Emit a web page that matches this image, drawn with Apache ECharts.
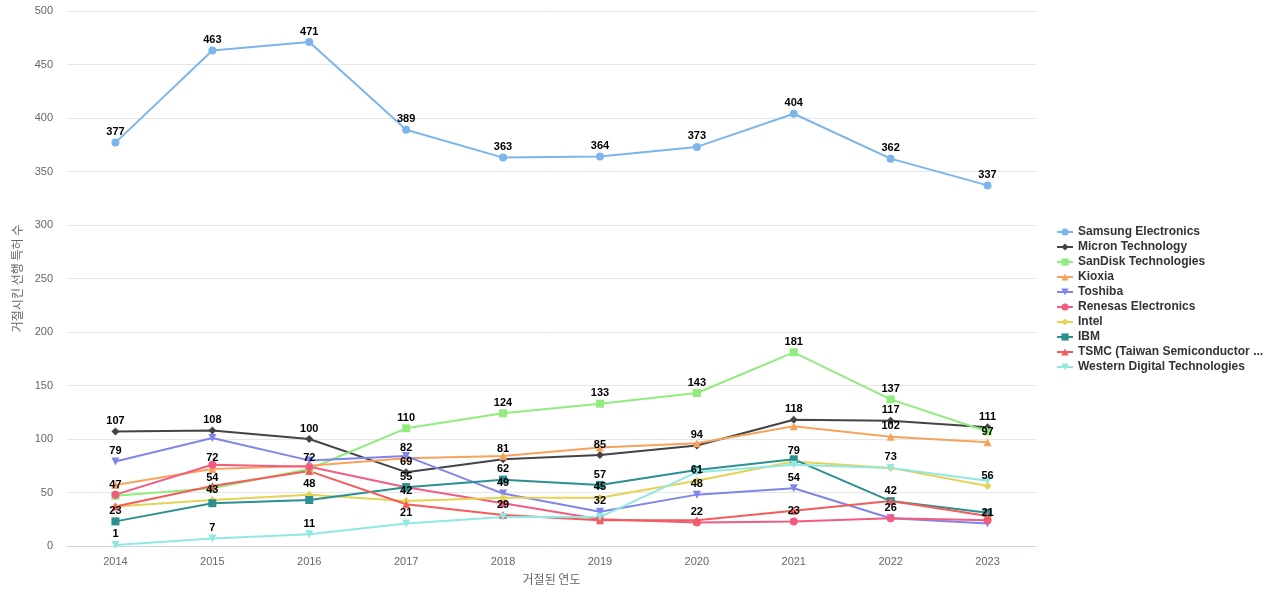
<!DOCTYPE html>
<html><head><meta charset="utf-8">
<script src="https://cdn.jsdelivr.net/npm/echarts@6/dist/echarts.min.js"></script>
<style>html,body{margin:0;padding:0;background:#fff}#c{width:1280px;height:600px}</style>
</head><body><div id="c"></div>
<script>
const years = ['2014','2015','2016','2017','2018','2019','2020','2021','2022','2023'];
const seriesNames = ['Samsung Electronics','Micron Technology','SanDisk Technologies','Kioxia','Toshiba','Renesas Electronics','Intel','IBM','TSMC (Taiwan Semiconductor Manufacturing Company)','Western Digital Technologies'];
const samsung = [377,463,471,389,363,364,373,404,362,337];
const micron  = [107,108,100,69,81,85,94,118,117,111];
const sandisk = [47,54,72,110,124,133,143,181,137,107];
const kioxia  = [57,72,75,82,84,92,96,112,102,97];
const toshiba = [79,101,80,84,49,32,48,54,26,21];
const renesas = [48,76,74,55,40,25,22,23,26,24];
const intel   = [37,43,48,42,45,45,61,79,73,56];
const ibm     = [23,40,43,55,62,57,71,81,42,31];
const tsmc    = [37,56,70,39,29,24,24,33,42,28];
const wd      = [1,7,11,21,27,27,69,76,73,61];
const yTicks = {min:0,max:500,interval:50};

const colors = ['#7cb5ec','#434348','#90ed7d','#f7a35c','#8085e9','#f15c80','#e4d354','#2b908f','#f45b5b','#91e8e1'];
const symbols = ['circle','diamond','rect','triangle','triangle','circle','diamond','rect','triangle','triangle'];
const rotations = [0,0,0,0,180,0,0,0,0,180];
const values = [samsung,micron,sandisk,kioxia,toshiba,renesas,intel,ibm,tsmc,wd];

const chart = echarts.init(document.getElementById('c'));
chart.setOption({
  animation:false,
  color:colors,
  grid:{left:67,right:244,top:11,bottom:54},
  legend:{orient:'vertical',left:1051,top:221,itemGap:3,itemWidth:16,itemHeight:9,
    textStyle:{fontSize:12,fontWeight:'bold',color:'#333',width:190,overflow:'truncate',fontFamily:'Liberation Sans, Arial'},
    data:seriesNames},
  xAxis:{type:'category',data:years,boundaryGap:true,
    name:'거절된 연도',nameLocation:'middle',nameGap:27,
    nameTextStyle:{color:'#666',fontSize:12,fontFamily:'Noto Sans CJK KR'},
    axisLine:{lineStyle:{color:'#ccd6eb'}},axisTick:{show:false},
    axisLabel:{color:'#666',fontSize:11,margin:10}},
  yAxis:{type:'value',min:yTicks.min,max:yTicks.max,interval:yTicks.interval,
    name:'거절시킨 선행 특허 수',nameLocation:'middle',nameGap:37,
    nameTextStyle:{color:'#666',fontSize:12,fontFamily:'Noto Sans CJK KR'},
    axisLine:{show:false},axisTick:{show:false},
    splitLine:{lineStyle:{color:'#e6e6e6'}},
    axisLabel:{color:'#666',fontSize:11,margin:14}},
  series: seriesNames.map((n,i)=>({
    name:n,type:'line',data:values[i],symbol:symbols[i],symbolRotate:rotations[i],
    symbolSize:8,
    lineStyle:{width:2},
    label:{show:true,position:'top',distance:1,color:'#000',fontSize:11,fontWeight:'bold',fontFamily:'Liberation Sans, Arial'},
    labelLayout:{hideOverlap:true},
    emphasis:{disabled:true}
  }))
});
</script></body></html>
